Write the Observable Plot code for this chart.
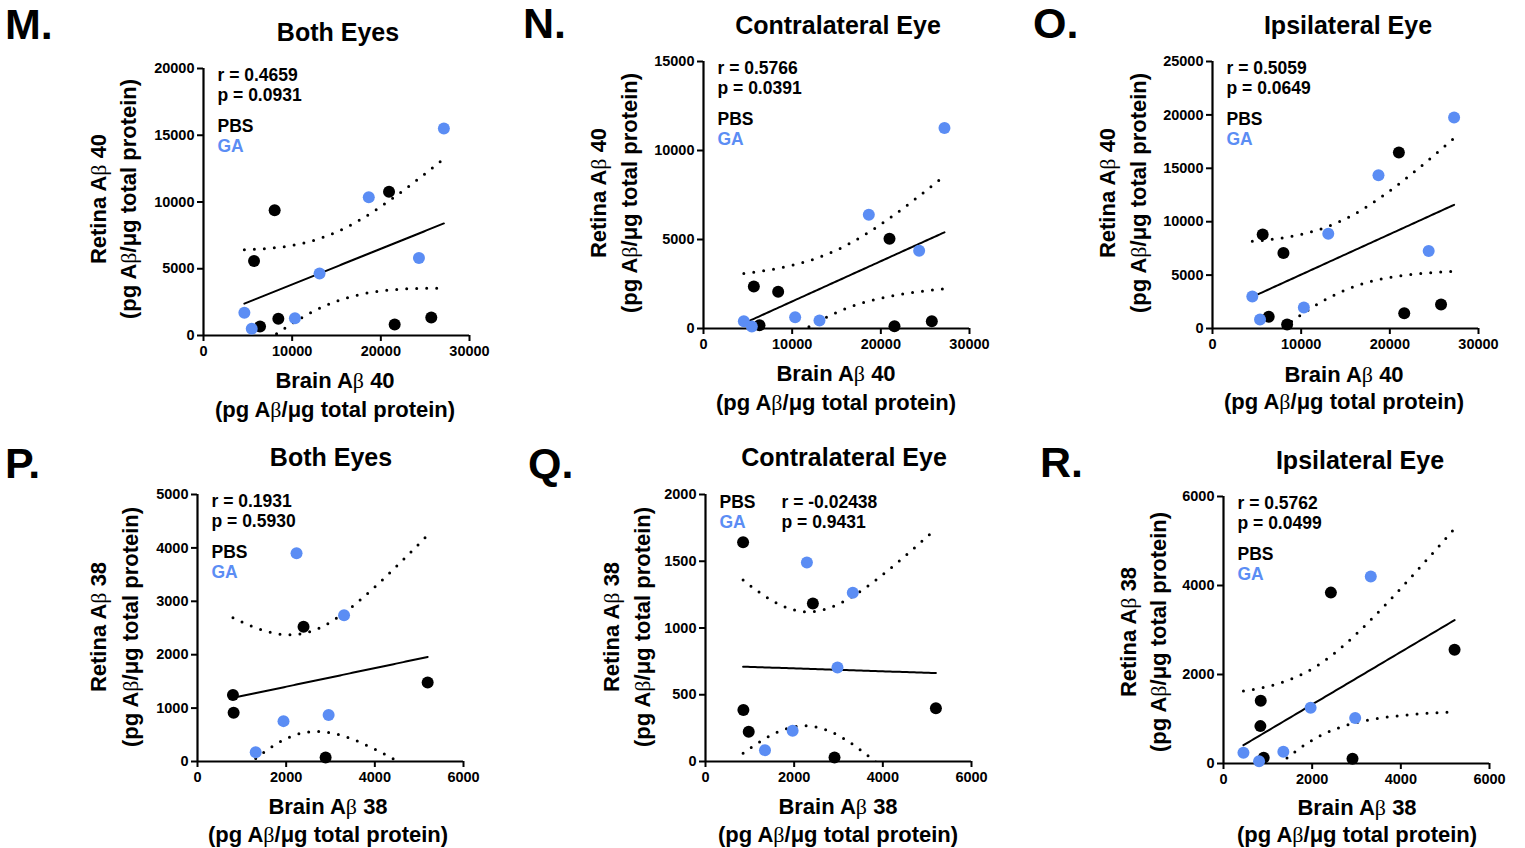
<!DOCTYPE html>
<html><head><meta charset="utf-8">
<script src="https://cdn.jsdelivr.net/npm/d3@7"></script>
<script src="https://cdn.jsdelivr.net/npm/@observablehq/plot@0.6"></script>
<style>
body{margin:0;background:#fff;}
#root{position:relative;width:1525px;height:848px;overflow:hidden;font-family:"Liberation Sans",Arial,sans-serif;}
#root svg{position:absolute;overflow:visible;}
</style></head><body><div id="root"></div>
<script>
// ---------- DATA ----------
// M. Both Eyes (Aβ40)
const mPbsX = [5700, 6375, 8025, 8440, 20925, 21560, 25690];
const mPbsY = [5575, 675, 9375, 1250, 10775, 825, 1350];
const mGaX  = [4610, 5440, 10310, 13090, 18640, 24300, 27110];
const mGaY  = [1700, 500, 1300, 4650, 10350, 5800, 15500];
// N. Contralateral Eye (Aβ40)
const nPbsX = [5677, 6316, 8421, 20977, 21540, 25750];
const nPbsY = [2362, 188, 2062, 5044, 131, 412];
const nGaX  = [4548, 5450, 10337, 13081, 18645, 24321, 27177];
const nGaY  = [412, 112, 637, 450, 6394, 4369, 11269];
// O. Ipsilateral Eye (Aβ40)
const oPbsX = [5660, 6340, 8000, 8416, 21020, 21625, 25777];
const oPbsY = [8812, 1094, 7062, 375, 16470, 1437, 2250];
const oGaX  = [4490, 5359, 10303, 13058, 18720, 24380, 27248];
const oGaY  = [3000, 844, 1969, 8875, 14344, 7250, 19750];
// P. Both Eyes (Aβ38)
const pPbsX = [800, 815, 2392, 2890, 5192];
const pPbsY = [1244, 912, 2525, 75, 1481];
const pGaX  = [1313, 1940, 2234, 2958, 3306];
const pGaY  = [175, 756, 3900, 869, 2737];
// Q. Contralateral Eye (Aβ38)
const qPbsX = [848, 855, 975, 2422, 2910, 5197];
const qPbsY = [1643, 386, 223, 1184, 30, 399];
const qGaX  = [1342, 1965, 2287, 2977, 3322];
const qGaY  = [85, 231, 1490, 705, 1264];
// R. Ipsilateral Eye (Aβ38)
const rPbsX = [840, 832, 907, 2422, 2910, 5212];
const rPbsY = [1410, 840, 127, 3840, 105, 2557];
const rGaX  = [450, 802, 1350, 1965, 2970, 3322];
const rGaY  = [240, 52, 262, 1252, 1020, 4200];

const letters = ["M.", "N.", "O.", "P.", "Q.", "R."];
const titles = ["Both Eyes", "Contralateral Eye", "Ipsilateral Eye", "Both Eyes", "Contralateral Eye", "Ipsilateral Eye"];
const rTexts = ["r = 0.4659", "r = 0.5766", "r = 0.5059", "r = 0.1931", "r = -0.02438", "r = 0.5762"];
const pTexts = ["p = 0.0931", "p = 0.0391", "p = 0.0649", "p = 0.5930", "p = 0.9431", "p = 0.0499"];
const groups = ["PBS", "GA"];
const ticks40x = [0, 10000, 20000, 30000];
const ticks38x = [0, 2000, 4000, 6000];
const yTicksM = [0, 5000, 10000, 15000, 20000];
const yTicksN = [0, 5000, 10000, 15000];
const yTicksO = [0, 5000, 10000, 15000, 20000, 25000];
const yTicksP = [0, 1000, 2000, 3000, 4000, 5000];
const yTicksQ = [0, 500, 1000, 1500, 2000];
const yTicksR = [0, 2000, 4000, 6000];
const analyte = ["40", "40", "40", "38", "38", "38"];

const BLUE = "#5b8df4";
const FONT = '"Liberation Sans", Arial, sans-serif';

// ---------- LAYOUT ----------
const panels = [
  {pbsX:mPbsX,pbsY:mPbsY,gaX:mGaX,gaY:mGaY,xt:ticks40x,yt:yTicksM,left:203,top:68,
   letter:[5,39],title:[338,41],xl:[335,388,417],yl:[106,136,199],legend:"left"},
  {pbsX:nPbsX,pbsY:nPbsY,gaX:nGaX,gaY:nGaY,xt:ticks40x,yt:yTicksN,left:703,top:61,
   letter:[523,38],title:[838,34],xl:[836,381,410],yl:[606,637,193],legend:"left"},
  {pbsX:oPbsX,pbsY:oPbsY,gaX:oGaX,gaY:oGaY,xt:ticks40x,yt:yTicksO,left:1212,top:61,
   letter:[1033,38],title:[1348,34],xl:[1344,382,409],yl:[1115,1146,193],legend:"left"},
  {pbsX:pPbsX,pbsY:pPbsY,gaX:pGaX,gaY:pGaY,xt:ticks38x,yt:yTicksP,left:197,top:494,
   letter:[5,478],title:[331,466],xl:[328,814,842],yl:[106,138,627],legend:"left"},
  {pbsX:qPbsX,pbsY:qPbsY,gaX:qGaX,gaY:qGaY,xt:ticks38x,yt:yTicksQ,left:705,top:494,
   letter:[528,478],title:[844,466],xl:[838,814,842],yl:[619,650,627],legend:"q"},
  {pbsX:rPbsX,pbsY:rPbsY,gaX:rGaX,gaY:rGaY,xt:ticks38x,yt:yTicksR,left:1223,top:496,
   letter:[1040,477],title:[1360,469],xl:[1357,815,842],yl:[1136,1166,632],legend:"left"}
];
const FW = 266, FH = 267, mL = 70, mR = 40, mT = 14, mB = 40;

const tTable = {8: 2.306, 9: 2.262, 10: 2.228, 11: 2.201, 12: 2.179};
function regress(xs, ys) {
  const n = xs.length, mx = d3.mean(xs), my = d3.mean(ys);
  let sxx = 0, sxy = 0;
  for (let i = 0; i < n; i++) { sxx += (xs[i]-mx)**2; sxy += (xs[i]-mx)*(ys[i]-my); }
  const b = sxy / sxx, a = my - b * mx;
  let sse = 0;
  for (let i = 0; i < n; i++) sse += (ys[i] - a - b*xs[i])**2;
  const s = Math.sqrt(sse / (n - 2)), t = tTable[n - 2];
  const [x0, x1] = d3.extent(xs);
  return d3.range(0, 81).map(i => {
    const x = x0 + (x1 - x0) * i / 80, y = a + b * x;
    const h = t * s * Math.sqrt(1/n + (x - mx)**2 / sxx);
    return {x, y, lo: y - h, hi: y + h};
  });
}

const root = document.getElementById("root");
panels.forEach((p, k) => {
  const pts = [
    ...p.pbsX.map((x, i) => ({x, y: p.pbsY[i], g: groups[0]})),
    ...p.gaX.map((x, i) => ({x, y: p.gaY[i], g: groups[1]}))
  ];
  const fit = regress(pts.map(d => d.x), pts.map(d => d.y));
  const xmax = p.xt[p.xt.length-1], ymax = p.yt[p.yt.length-1];
  const fmt = d => String(d);
  const txt = (s, dx, dy, fill) => Plot.text([s], {frameAnchor: "top-left", dx, dy, textAnchor: "start",
      lineAnchor: "middle", fontSize: 17.5, fontWeight: "bold", fill});
  const legendMarks = p.legend === "q"
    ? [txt(groups[0], 14, 8, "#000"), txt(groups[1], 14, 28, BLUE), txt(rTexts[k], 76, 8, "#000"), txt(pTexts[k], 76, 28, "#000")]
    : [txt(rTexts[k], 14, 7, "#000"), txt(pTexts[k], 14, 27, "#000"), txt(groups[0], 14, 58, "#000"), txt(groups[1], 14, 78, BLUE)];
  const chart = Plot.plot({
    width: FW + mL + mR, height: FH + mT + mB,
    marginLeft: mL, marginRight: mR, marginTop: mT, marginBottom: mB,
    x: {domain: [0, xmax]},
    y: {domain: [0, ymax]},
    color: {domain: groups, range: ["#000000", BLUE]},
    style: {fontFamily: FONT, fontWeight: "bold", fontSize: "14.5px", color: "#000", background: "transparent", overflow: "visible"},
    marks: [
      Plot.axisX({ticks: p.xt, tickSize: 6, tickPadding: 4, strokeWidth: 2, tickFormat: fmt, label: null, fontSize: 14.5}),
      Plot.axisY({ticks: p.yt, tickSize: 6, tickPadding: 3, strokeWidth: 2, tickFormat: fmt, label: null, fontSize: 14.5}),
      Plot.ruleX([0], {strokeWidth: 2.2}),
      Plot.ruleY([0], {strokeWidth: 2.2}),
      Plot.line(fit, {x: "x", y: "lo", strokeWidth: 3, strokeDasharray: "0 10", strokeLinecap: "round", clip: true}),
      Plot.line(fit, {x: "x", y: "hi", strokeWidth: 3, strokeDasharray: "0 10", strokeLinecap: "round", clip: true}),
      Plot.line(fit, {x: "x", y: "y", strokeWidth: 2}),
      Plot.dot(pts, {x: "x", y: "y", r: 6, fill: "g", stroke: null}),
      ...legendMarks
    ]
  });
  chart.style.left = (p.left - mL) + "px";
  chart.style.top = (p.top - mT) + "px";
  root.appendChild(chart);
});

// ---------- text overlay (letters, titles, axis labels) ----------
const ov = d3.select(root).append("svg").attr("width", 1525).attr("height", 848)
  .style("left", "0px").style("top", "0px").style("pointer-events", "none")
  .attr("font-family", FONT).attr("font-weight", "bold").attr("fill", "#000");
function label(g, parts) {
  parts.forEach(([s, beta]) => {
    const t = g.append("tspan").text(s);
    if (beta) t.attr("font-weight", "normal").attr("font-family", '"Liberation Serif", serif');
  });
}
panels.forEach((p, k) => {
  ov.append("text").attr("x", p.letter[0]).attr("y", p.letter[1]).attr("font-size", 43).text(letters[k]);
  ov.append("text").attr("x", p.title[0]).attr("y", p.title[1]).attr("font-size", 25).attr("text-anchor", "middle").text(titles[k]);
  const x1 = ov.append("text").attr("x", p.xl[0]).attr("y", p.xl[1]).attr("font-size", 22).attr("text-anchor", "middle");
  label(x1, [["Brain A"], ["β", true], [" " + analyte[k]]]);
  const x2 = ov.append("text").attr("x", p.xl[0]).attr("y", p.xl[2]).attr("font-size", 22).attr("text-anchor", "middle");
  label(x2, [["(pg A"], ["β", true], ["/μg total protein)"]]);
  const y1 = ov.append("text").attr("transform", `translate(${p.yl[0]},${p.yl[2]}) rotate(-90)`).attr("font-size", 22).attr("text-anchor", "middle");
  label(y1, [["Retina A"], ["β", true], [" " + analyte[k]]]);
  const y2 = ov.append("text").attr("transform", `translate(${p.yl[1]},${p.yl[2]}) rotate(-90)`).attr("font-size", 22).attr("text-anchor", "middle");
  label(y2, [["(pg A"], ["β", true], ["/μg total protein)"]]);
});
</script></body></html>
